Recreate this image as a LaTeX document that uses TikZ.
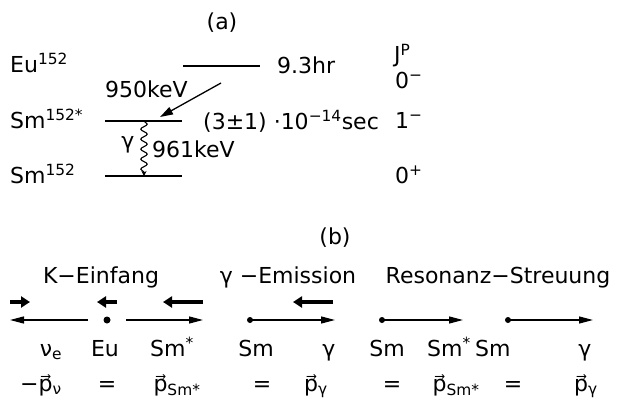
\documentclass[tikz,border=0pt]{standalone}
\usepackage{fontspec}
\setmainfont{DejaVu Sans}
\usetikzlibrary{arrows.meta,decorations.pathmorphing}
\newcommand{\pvec}{p⃗}

\begin{document}
\begin{tikzpicture}[x=1pt, y=-1pt,
  txt/.style={font=\fontsize{22}{26}\selectfont, inner sep=0pt},
  level/.style={line width=1.4pt},
  decay/.style={line width=1.3pt, -{Triangle[length=13pt,width=8pt]}},
  thin/.style={line width=1.3pt, -{Triangle[length=14pt,width=7pt]}},
  push/.style={line width=4.5pt, -{Triangle[length=9pt,width=11pt]}},
  dot/.style={circle, fill, inner sep=0pt, minimum size=#1},
  dot/.default=6pt
]
\useasboundingbox (0,0) rectangle (623,404);

% (a) level scheme
\node[txt, anchor=base] (tita) at (222,30) {(a)};
\node[txt, anchor=base west] (eu) at (10,72) {Eu\textsuperscript{152}};
\node[txt, anchor=base west] (smx) at (10,128) {Sm\textsuperscript{152*}};
\node[txt, anchor=base west] (sm) at (10,183) {Sm\textsuperscript{152}};
\coordinate (euL) at (183,66);  \coordinate (euR) at (260,66);
\coordinate (smxL) at (105,121); \coordinate (smxR) at (182,121);
\coordinate (smL) at (105,176); \coordinate (smR) at (182,176);
\draw[level] (euL) -- (euR);
\draw[level] (smxL) -- (smxR);
\draw[level] (smL) -- (smR);
\node[txt, anchor=base west] (halflife) at (277,73) {9.3hr};
\node[txt, anchor=base west] (life) at (203,129) {(3±1) ·10\textsuperscript{−14}sec};
\node[txt, anchor=base west] (jp) at (394,63) {J\textsuperscript{P}};
\node[txt, anchor=base west] (jeu) at (395,88) {0\textsuperscript{−}};
\node[txt, anchor=base west] (jsmx) at (395,128) {1\textsuperscript{−}};
\node[txt, anchor=base west] (jsm) at (395,183) {0\textsuperscript{+}};
\coordinate (decayA) at (221,83); \coordinate (decayB) at (160,117);
\draw[decay] (decayA) -- (decayB);
\node[txt, anchor=base west] (ecap) at (105,97) {950keV};
\coordinate (gamA) at (144,121); \coordinate (gamB) at (144,176);
\draw[line width=1.1pt, decorate, decoration={snake, amplitude=3.2pt, segment length=10pt, post length=3pt}, -{Stealth[length=5pt,width=5pt]}] (gamA) -- (gamB);
\node[txt, anchor=base] (gam) at (128,148) {γ};
\node[txt, anchor=base west] (egam) at (152,157) {961keV};

% (b) momentum balance
\node[txt, anchor=base] (titb) at (335,244) {(b)};
\node[txt, anchor=base] (kcap) at (101,283) {K−Einfang};
\node[txt, anchor=base] (gemit) at (288,283) {γ −Emission};
\node[txt, anchor=base] (reso) at (498,283) {Resonanz−Streuung};

\draw[push] (10,302) -- (30,302);
\draw[push] (117,302) -- (97,302);
\draw[push] (203,302) -- (163,302);
\draw[push] (333,302) -- (293,302);

\node[dot=7pt] (eudot) at (107,320) {};
\draw[thin] (88,320) -- (10,320);
\draw[thin] (126,320) -- (203,320);
\node[dot] (smdot1) at (250,320) {};
\draw[thin] (smdot1.center) -- (335,320);
\node[dot] (smdot2) at (382,320) {};
\draw[thin] (smdot2.center) -- (463,320);
\node[dot] (smdot3) at (508,320) {};
\draw[thin] (smdot3.center) -- (593,320);

\node[txt, anchor=base] (nu) at (51,356) {ν\textsubscript{e}};
\node[txt, anchor=base] (leu) at (105,356) {Eu};
\node[txt, anchor=base] (lsmx1) at (172,356) {Sm\textsuperscript{*}};
\node[txt, anchor=base] (lsm1) at (256,356) {Sm};
\node[txt, anchor=base] (lgam1) at (329,356) {γ};
\node[txt, anchor=base] (lsm2) at (387,356) {Sm};
\node[txt, anchor=base east] (lsmx2) at (471,356) {Sm\textsuperscript{*}};
\node[txt, anchor=base west] (lsm3) at (475,356) {Sm};
\node[txt, anchor=base] (lgam2) at (585,356) {γ};

\node[txt, anchor=base] (pnu) at (41,391) {−\pvec\textsubscript{ν}};
\node[txt, anchor=base] (eq1) at (107,391) {=};
\node[txt, anchor=base] (psmx1) at (177,391) {\pvec\textsubscript{Sm*}};
\node[txt, anchor=base] (eq2) at (262,391) {=};
\node[txt, anchor=base] (pgam1) at (316,391) {\pvec\textsubscript{γ}};
\node[txt, anchor=base] (eq3) at (392,391) {=};
\node[txt, anchor=base] (psmx2) at (456,391) {\pvec\textsubscript{Sm*}};
\node[txt, anchor=base] (eq4) at (513,391) {=};
\node[txt, anchor=base] (pgam2) at (586,391) {\pvec\textsubscript{γ}};
\end{tikzpicture}
\end{document}
